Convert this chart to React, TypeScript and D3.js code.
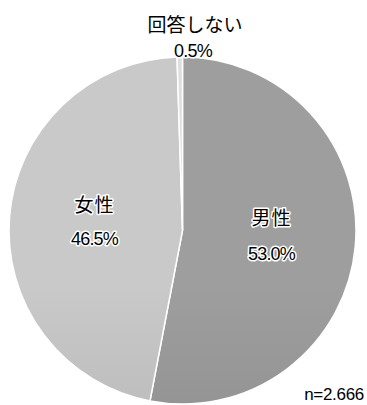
import React from "react";
import * as d3 from "d3";

const categories = ["男性", "女性", "回答しない"];
const values = [53.0, 46.5, 0.5];
const valueLabels = ["53.0%", "46.5%", "0.5%"];
const sampleNote = "n=2.666";

const W = 367;
const H = 405;
const cx = 182.5;
const cy = 230.5;
const R = 173.5;

const gradients = [
  { top: "#9e9e9e", bottom: "#828282" },
  { top: "#c9c9c9", bottom: "#a8a8a8" },
  { top: "#dedede", bottom: "#d0d0d0" },
];

const jpFont = "'Noto Sans CJK JP', 'Noto Sans', sans-serif";
const numFont = "'Liberation Sans', Arial, sans-serif";

export default function App() {
  const pie = d3
    .pie<number>()
    .sort(null)
    .value((d) => d)
    .startAngle(0)
    .endAngle(2 * Math.PI);
  const arcs = pie(values);
  const arc = d3.arc<d3.PieArcDatum<number>>().innerRadius(0).outerRadius(R);

  const halo = {
    stroke: "#ffffff",
    strokeWidth: 3,
    strokeLinejoin: "round" as const,
    paintOrder: "stroke",
  };

  const labelPos = [
    { x: 89, nameY: -6, valY: 29 },
    { x: -88, nameY: -19, valY: 14 },
  ];

  return (
    <svg
      width={W}
      height={H}
      style={{ position: "absolute", left: 0, top: 0, background: "#ffffff" }}
    >
      <defs>
        {gradients.map((g, i) => (
          <linearGradient
            key={i}
            id={`g${i}`}
            gradientUnits="userSpaceOnUse"
            x1={0}
            y1={cy - R}
            x2={0}
            y2={cy + R}
          >
            <stop offset="0%" stopColor={g.top} />
            <stop offset="100%" stopColor={g.bottom} />
          </linearGradient>
        ))}
      </defs>
      <g transform={`translate(${cx},${cy})`}>
        {arcs.map((a, i) => (
          <path
            key={i}
            d={arc(a) || ""}
            fill={`url(#g${i})`}
            stroke="#ffffff"
            strokeWidth={1.5}
          />
        ))}
        {labelPos.map((p, i) => (
          <g key={i} transform={`translate(${p.x},0)`}>
            <text
              y={p.nameY}
              textAnchor="middle"
              fontFamily={jpFont}
              fontSize={19}
              fill="#000"
              letterSpacing={1}
              style={halo}
            >
              {categories[i]}
            </text>
            <text
              y={p.valY}
              textAnchor="middle"
              fontFamily={numFont}
              fontSize={18}
              letterSpacing={-0.8}
              fill="#000"
              style={halo}
            >
              {valueLabels[i]}
            </text>
          </g>
        ))}
      </g>
      <text
        x={195}
        y={32}
        textAnchor="middle"
        fontFamily={jpFont}
        fontSize={19}
        fill="#000"
      >
        {categories[2]}
      </text>
      <text
        x={193}
        y={57}
        textAnchor="middle"
        fontFamily={numFont}
        fontSize={18}
        letterSpacing={-0.8}
        fill="#000"
        style={halo}
      >
        {valueLabels[2]}
      </text>
      <text
        x={364}
        y={400}
        textAnchor="end"
        fontFamily={numFont}
        fontSize={17}
        letterSpacing={-0.3}
        fill="#000"
        style={halo}
      >
        {sampleNote}
      </text>
    </svg>
  );
}
